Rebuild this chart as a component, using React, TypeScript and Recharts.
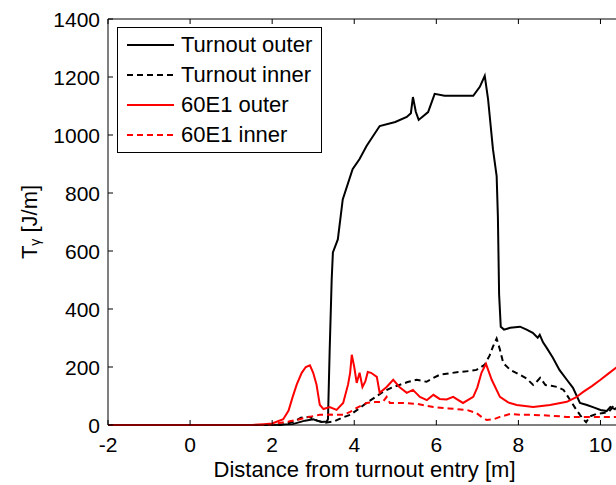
import React from "react";
import { LineChart, Line, XAxis, YAxis } from "recharts";

// x positions [m] and T-gamma values [J/m]
const turnoutOuterX = [-2, 2.0, 2.5, 2.8, 3.0, 3.2, 3.33, 3.36, 3.4, 3.45, 3.48, 3.6, 3.72, 3.96, 4.13, 4.3, 4.62, 5.0, 5.28, 5.38, 5.43, 5.5, 5.57, 5.8, 5.96, 6.2, 6.9, 7.06, 7.18, 7.26, 7.38, 7.47, 7.5, 7.53, 7.57, 7.65, 7.8, 8.04, 8.2, 8.35, 8.47, 8.52, 8.6, 8.69, 8.84, 9.0, 9.18, 9.33, 9.5, 9.67, 9.85, 10.0, 10.15, 10.24, 10.35, 10.5];
const turnoutOuterY = [0, 0, 3, 15, 20, 10, 12, 20, 250, 500, 595, 640, 778, 882, 917, 962, 1031, 1045, 1062, 1075, 1131, 1080, 1052, 1079, 1142, 1135, 1135, 1166, 1204, 1125, 951, 858, 720, 450, 339, 329, 335, 339, 329, 318, 301, 311, 285, 266, 232, 190, 156, 128, 76, 69, 60, 52, 48, 62, 55, 70];

const turnoutInnerX = [-2, 2.2, 2.5, 2.7, 2.9, 3.1, 3.3, 3.5, 3.7, 3.9, 4.1, 4.3, 4.5, 4.7, 4.9, 5.1, 5.3, 5.52, 5.76, 5.9, 6.08, 6.3, 6.57, 6.8, 6.98, 7.18, 7.3, 7.38, 7.47, 7.55, 7.63, 7.8, 8.04, 8.2, 8.36, 8.45, 8.53, 8.66, 8.8, 8.95, 9.1, 9.26, 9.4, 9.5, 9.58, 9.65, 9.75, 9.9, 10.07, 10.2, 10.3, 10.4, 10.5];
const turnoutInnerY = [0, 0, 10, 25, 28, 15, 8, 12, 25, 35, 55, 76, 95, 114, 128, 138, 148, 156, 149, 160, 173, 178, 183, 186, 190, 208, 240, 270, 298, 260, 214, 190, 173, 160, 138, 150, 163, 138, 135, 131, 121, 86, 55, 35, 20, 10, 30, 38, 41, 45, 62, 50, 55];

const e1OuterX = [-2, 1.5, 1.8, 2.0, 2.27, 2.4, 2.5, 2.6, 2.72, 2.82, 2.92, 3.0, 3.08, 3.16, 3.25, 3.4, 3.57, 3.73, 3.85, 3.9, 3.94, 4.0, 4.06, 4.13, 4.2, 4.27, 4.33, 4.41, 4.55, 4.62, 4.79, 4.95, 5.1, 5.28, 5.43, 5.6, 5.77, 5.93, 6.08, 6.25, 6.41, 6.65, 6.9, 7.0, 7.1, 7.21, 7.35, 7.55, 7.75, 7.96, 8.36, 8.77, 9.18, 9.4, 9.58, 9.8, 10.0, 10.2, 10.5];
const e1OuterY = [0, 0, 3, 5, 20, 50, 97, 140, 180, 200, 206, 180, 140, 70, 55, 62, 52, 76, 140, 180, 242, 200, 145, 180, 131, 150, 183, 180, 166, 111, 131, 156, 131, 111, 121, 97, 86, 104, 90, 88, 97, 76, 97, 130, 180, 211, 156, 97, 78, 69, 62, 69, 80, 95, 114, 135, 156, 178, 210];

const e1InnerX = [-2, 1.9, 2.1, 2.4, 2.67, 2.9, 3.16, 3.4, 3.73, 3.9, 4.06, 4.3, 4.5, 4.7, 4.79, 4.87, 5.2, 5.52, 5.93, 6.3, 6.74, 6.98, 7.1, 7.23, 7.4, 7.55, 7.8, 8.1, 8.36, 8.8, 9.18, 9.6, 10.0, 10.5];
const e1InnerY = [0, 0, 5, 12, 20, 28, 35, 36, 35, 45, 59, 76, 79, 80, 97, 76, 76, 73, 62, 57, 52, 41, 28, 17, 20, 28, 38, 35, 35, 32, 28, 28, 28, 28];

const xTicks = [-2, 0, 2, 4, 6, 8, 10];
const yTicks = [0, 200, 400, 600, 800, 1000, 1200, 1400];

const seriesNames = ["Turnout outer", "Turnout inner", "60E1 outer", "60E1 inner"];
const seriesColors = ["#000000", "#000000", "#ff0000", "#ff0000"];
const seriesDashes = ["", "6 4", "", "6 4"];

const zip = (xs: number[], ys: number[]) => xs.map((x, i) => ({ x, y: ys[i] }));
const seriesData = [
  zip(turnoutOuterX, turnoutOuterY),
  zip(turnoutInnerX, turnoutInnerY),
  zip(e1OuterX, e1OuterY),
  zip(e1InnerX, e1InnerY),
];

const FONT = "'Liberation Sans', Arial, Helvetica, sans-serif";
const TICK_LEN = 5;
const MARGIN = 12;

function BottomTick({ x, y, payload }: any) {
  const y0 = y - MARGIN;
  return (
    <g>
      <line x1={x} x2={x} y1={y0} y2={y0 - TICK_LEN} stroke="#000" />
      <text x={x} y={y} dy="0.71em" textAnchor="middle" fontSize={21} fontFamily={FONT} fill="#000">
        {payload.value}
      </text>
    </g>
  );
}

function LeftTick({ x, y, payload }: any) {
  const x0 = x + 8;
  return (
    <g>
      <line x1={x0} x2={x0 + TICK_LEN} y1={y} y2={y} stroke="#000" />
      <text x={x} y={y} dy="0.36em" textAnchor="end" fontSize={21} fontFamily={FONT} fill="#000">
        {payload.value}
      </text>
    </g>
  );
}

function TopTick({ x, y }: any) {
  return <line x1={x} x2={x} y1={y} y2={y + TICK_LEN} stroke="#000" />;
}

function RightTick({ x, y }: any) {
  return <line x1={x} x2={x - TICK_LEN} y1={y} y2={y} stroke="#000" />;
}

function YTitle({ viewBox }: any) {
  const cx = viewBox.x + (viewBox.width || 0) - 79;
  const cy = viewBox.y + viewBox.height / 2;
  return (
    <text
      x={cx}
      y={cy}
      transform={`rotate(-90, ${cx}, ${cy})`}
      textAnchor="middle"
      dominantBaseline="central"
      fontSize={22}
      fontFamily={FONT}
      fill="#000"
    >
      <tspan>T</tspan>
      <tspan fontSize={14} dy={6}>γ</tspan>
      <tspan dy={-6}> [J/m]</tspan>
    </text>
  );
}

function LegendBox() {
  return (
    <div
      style={{
        position: "absolute",
        left: 117,
        top: 27,
        width: 203,
        padding: "2px 0",
        border: "1px solid #000",
        background: "#fff",
        fontFamily: FONT,
        fontSize: 22,
        color: "#000",
      }}
    >
      {seriesNames.map((name, i) => (
        <div key={name} style={{ display: "flex", alignItems: "center", height: 30 }}>
          <svg width={47} height={10} style={{ marginLeft: 9, marginRight: 7 }}>
            <line x1={0} x2={47} y1={5} y2={5} stroke={seriesColors[i]} strokeWidth={2} strokeDasharray={seriesDashes[i]} />
          </svg>
          <span>{name}</span>
        </div>
      ))}
    </div>
  );
}

export default function App() {
  return (
    <div
      style={{
        position: "absolute",
        left: 0,
        top: 0,
        width: 616,
        height: 485,
        overflow: "hidden",
        background: "#fff",
      }}
    >
      <LineChart width={680} height={485} margin={{ top: 18, right: 58, bottom: 59, left: 107 }}>
        <XAxis
          xAxisId="main"
          type="number"
          dataKey="x"
          domain={[-2, 10.5]}
          ticks={xTicks}
          allowDataOverflow
          height={1}
          tickSize={0}
          tickMargin={MARGIN}
          tick={<BottomTick />}
          axisLine={{ stroke: "#000" }}
          label={{ value: "Distance from turnout entry [m]", position: "bottom", offset: 35, fontSize: 22, fill: "#000", fontFamily: FONT }}
        />
        <XAxis
          xAxisId="top"
          orientation="top"
          type="number"
          dataKey="x"
          domain={[-2, 10.5]}
          ticks={xTicks}
          allowDataOverflow
          height={1}
          tickSize={0}
          tickMargin={0}
          tick={<TopTick />}
          axisLine={{ stroke: "#000" }}
        />
        <YAxis
          yAxisId="main"
          type="number"
          domain={[0, 1400]}
          ticks={yTicks}
          width={1}
          tickSize={0}
          tickMargin={8}
          tick={<LeftTick />}
          axisLine={{ stroke: "#000" }}
          label={<YTitle />}
        />
        <YAxis
          yAxisId="right"
          orientation="right"
          type="number"
          domain={[0, 1400]}
          ticks={yTicks}
          width={1}
          tickSize={0}
          tickMargin={0}
          tick={<RightTick />}
          axisLine={{ stroke: "#000" }}
        />
        {seriesData.map((d, i) => (
          <Line
            key={seriesNames[i]}
            xAxisId="main"
            yAxisId="main"
            data={d}
            dataKey="y"
            name={seriesNames[i]}
            type="linear"
            stroke={seriesColors[i]}
            strokeWidth={2}
            strokeDasharray={seriesDashes[i] || undefined}
            dot={false}
            activeDot={false}
            isAnimationActive={false}
          />
        ))}
      </LineChart>
      <LegendBox />
    </div>
  );
}
